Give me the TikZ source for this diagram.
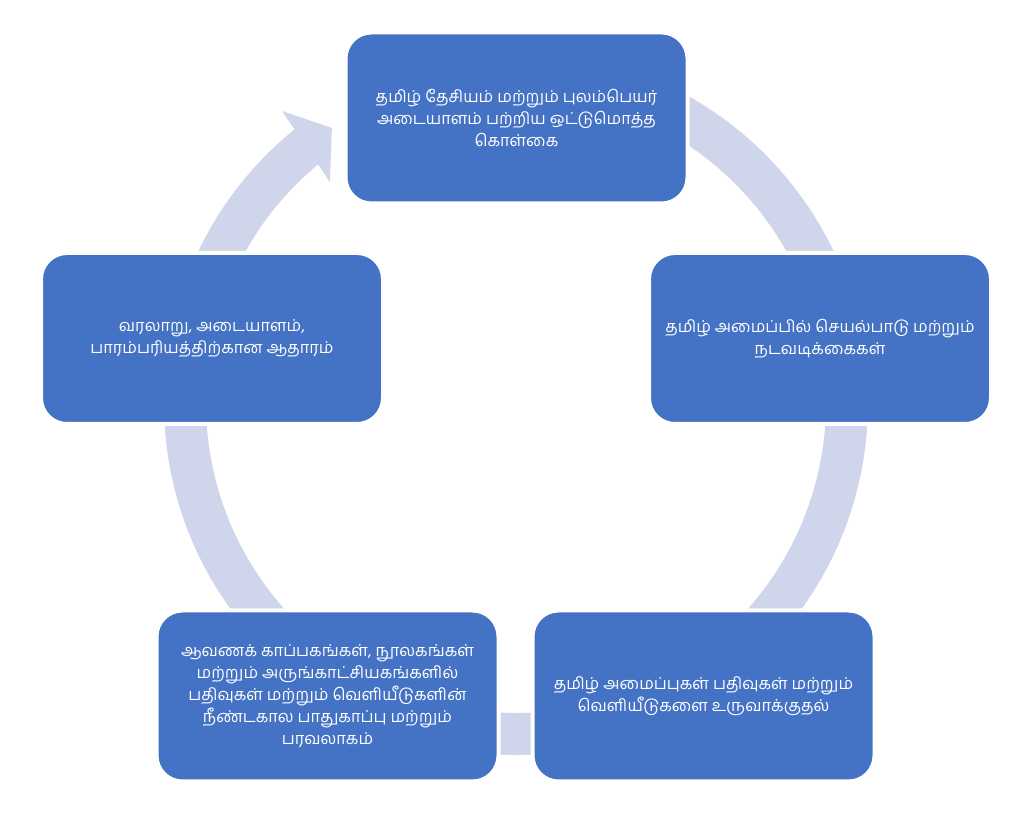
\documentclass[tikz,border=0pt]{standalone}
\usepackage{fontspec}
\newfontfamily\tamilfont[Script=Tamil]{Hind Madurai}
\usetikzlibrary{calc}
\definecolor{boxblue}{HTML}{4472C4}
\definecolor{ringblue}{HTML}{CFD5EA}

\begin{document}
\begin{tikzpicture}[x=1pt,y=1pt,
    stagebox/.style={rectangle, rounded corners=26pt, fill=boxblue, draw=white, line width=4pt,
      minimum width=342pt, minimum height=171pt, text=white, align=center,
      font=\tamilfont\fontsize{16.4}{22}\selectfont}]
    \useasboundingbox (0,0) rectangle (1024,826);

    % Define the centre of the cycle
    \coordinate (C) at (516,423);

    % Draw the ring and its arrow head
    \draw[ringblue, line width=42pt] ($(C)+(129:331)$) arc[start angle=129, end angle=450, radius=331];
    \fill[ringblue] ($(C)+(128.7:374)$) -- ($(C)+(123.8:331)$) -- ($(C)+(130.1:289)$) -- cycle;

    % Draw the stages
    \node[stagebox] (policy) at (516.5,708) {தமிழ் தேசியம் மற்றும் புலம்பெயர்\\அடையாளம் பற்றிய ஒட்டுமொத்த\\கொள்கை};
    \node[stagebox] (activity) at (820,487.5) {தமிழ் அமைப்பில் செயல்பாடு மற்றும்\\நடவடிக்கைகள்};
    \node[stagebox] (records) at (703.5,130) {தமிழ் அமைப்புகள் பதிவுகள் மற்றும்\\வெளியீடுகளை உருவாக்குதல்};
    \node[stagebox] (archives) at (327.5,130) {ஆவணக் காப்பகங்கள், நூலகங்கள்\\மற்றும் அருங்காட்சியகங்களில்\\பதிவுகள் மற்றும் வெளியீடுகளின்\\நீண்டகால பாதுகாப்பு மற்றும்\\பரவலாகம்};
    \node[stagebox] (heritage) at (212,487.5) {வரலாறு, அடையாளம்,\\பாரம்பரியத்திற்கான ஆதாரம்};

\end{tikzpicture}
\end{document}
